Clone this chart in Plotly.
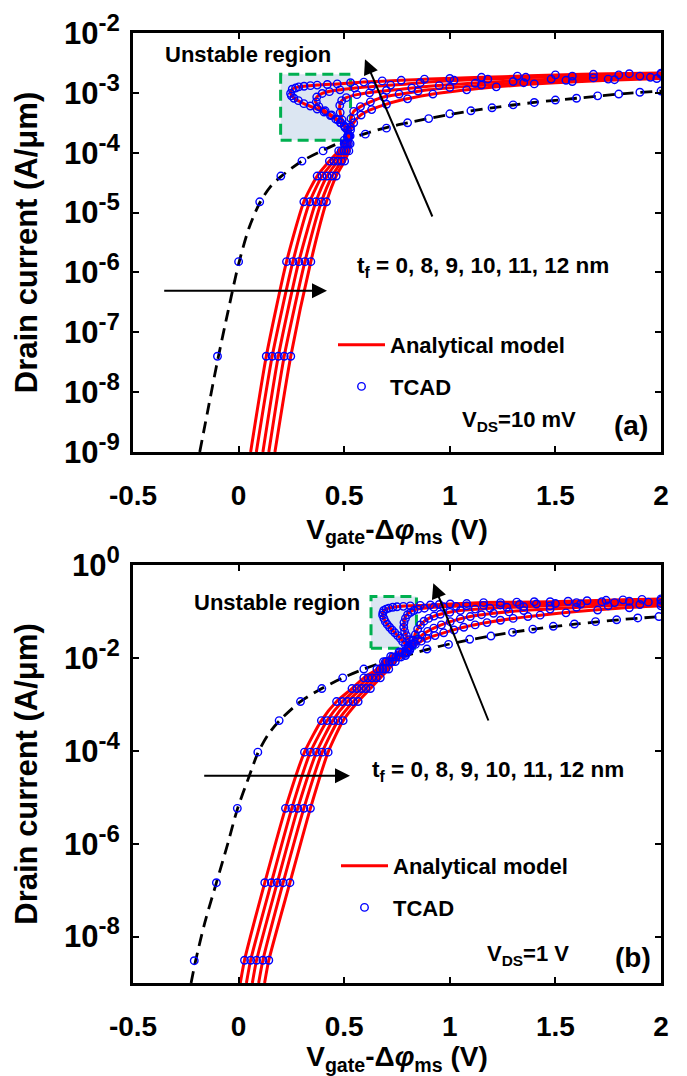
import plotly.graph_objects as go

FONT = "Liberation Sans, Arial, sans-serif"
W, H = 687, 1076

# Every curve is a list of (V_gate - delta_phi_ms [V], log10(I_D [A/um])) pairs.

# ---------------- panel (a): V_DS = 10 mV ----------------
A_TF0_MODEL = [(-0.184, -9.00), (-0.14, -8.20), (-0.10, -7.48), (-0.05, -6.65), (0.00, -5.86),
               (0.05, -5.25), (0.10, -4.84), (0.15, -4.57), (0.20, -4.40), (0.30, -4.14),
               (0.40, -3.96), (0.50, -3.80), (0.60, -3.68), (0.70, -3.58), (0.80, -3.50),
               (1.00, -3.36), (1.20, -3.25), (1.40, -3.16), (1.60, -3.09), (1.80, -3.02), (2.00, -2.97)]
A_TF0_TCAD = [(-0.10, -7.40), (0.00, -5.82), (0.10, -4.82), (0.20, -4.39), (0.30, -4.14), (0.40, -3.97),
              (0.50, -3.79), (0.60, -3.69), (0.70, -3.59), (0.80, -3.50), (0.90, -3.43), (1.00, -3.35),
              (1.10, -3.30), (1.20, -3.25), (1.30, -3.20), (1.40, -3.16), (1.50, -3.12), (1.60, -3.09),
              (1.70, -3.05), (1.80, -3.02), (1.90, -2.99), (2.00, -2.97)]

A_TF8_MODEL = [(0.057, -9.00), (0.131, -7.40), (0.227, -5.82), (0.309, -4.82), (0.372, -4.39), (0.430, -4.14),
               (0.474, -3.97), (0.500, -3.85), (0.515, -3.74), (0.530, -3.62), (0.545, -3.50), (0.575, -3.38),
               (0.620, -3.29), (0.690, -3.20), (0.770, -3.12), (0.900, -3.03), (1.050, -2.96), (1.250, -2.89),
               (1.500, -2.83), (1.750, -2.79), (2.000, -2.76)]
A_TF8_TCAD = [(0.131, -7.40), (0.227, -5.82), (0.309, -4.82), (0.372, -4.39), (0.430, -4.14), (0.474, -3.97),
              (0.500, -3.85), (0.515, -3.74), (0.530, -3.62), (0.545, -3.50), (0.580, -3.37), (0.630, -3.28),
              (0.700, -3.19), (0.800, -3.10), (0.920, -3.02), (1.080, -2.95), (1.220, -2.90), (1.400, -2.85),
              (1.580, -2.81), (1.780, -2.78), (1.980, -2.76)]

A_TF9_MODEL = [(0.084, -9.00), (0.159, -7.40), (0.257, -5.82), (0.337, -4.82), (0.395, -4.39), (0.451, -4.14),
               (0.486, -3.97), (0.505, -3.85), (0.520, -3.72), (0.530, -3.57), (0.532, -3.43), (0.545, -3.31),
               (0.577, -3.23), (0.624, -3.15), (0.687, -3.07), (0.770, -3.02), (0.900, -2.95), (1.050, -2.90),
               (1.250, -2.85), (1.500, -2.80), (1.750, -2.77), (2.000, -2.74)]
A_TF9_TCAD = [(0.159, -7.40), (0.257, -5.82), (0.337, -4.82), (0.395, -4.39), (0.451, -4.14), (0.486, -3.97),
              (0.505, -3.85), (0.520, -3.72), (0.530, -3.57), (0.532, -3.43), (0.545, -3.31), (0.577, -3.23),
              (0.624, -3.15), (0.687, -3.07), (0.760, -3.02), (0.850, -2.97), (1.000, -2.91), (1.150, -2.87),
              (1.350, -2.83), (1.550, -2.79), (1.750, -2.77), (1.950, -2.74)]

A_TF10_MODEL = [(0.115, -9.00), (0.188, -7.40), (0.285, -5.82), (0.366, -4.82), (0.419, -4.39), (0.469, -4.14),
                (0.499, -3.97), (0.512, -3.85), (0.516, -3.72), (0.505, -3.58), (0.490, -3.45), (0.481, -3.33),
                (0.479, -3.21), (0.488, -3.13), (0.510, -3.08), (0.560, -3.03), (0.650, -2.98), (0.770, -2.94),
                (0.900, -2.89), (1.050, -2.85), (1.250, -2.81), (1.500, -2.77), (1.750, -2.74), (2.000, -2.72)]
A_TF10_TCAD = [(0.188, -7.40), (0.285, -5.82), (0.366, -4.82), (0.419, -4.39), (0.469, -4.14), (0.499, -3.97),
               (0.512, -3.85), (0.516, -3.72), (0.505, -3.58), (0.490, -3.45), (0.481, -3.33), (0.479, -3.21),
               (0.488, -3.13), (0.510, -3.08), (0.560, -3.03), (0.620, -3.00), (0.700, -2.96), (0.820, -2.92),
               (0.950, -2.88), (1.120, -2.84), (1.300, -2.81), (1.480, -2.77), (1.680, -2.75), (1.900, -2.72)]

A_TF11_MODEL = [(0.143, -9.00), (0.216, -7.40), (0.314, -5.82), (0.392, -4.82), (0.443, -4.39), (0.487, -4.14),
                (0.511, -3.97), (0.520, -3.85), (0.522, -3.72), (0.505, -3.58), (0.470, -3.45), (0.420, -3.33),
                (0.380, -3.23), (0.364, -3.15), (0.370, -3.07), (0.396, -3.01), (0.450, -2.96), (0.550, -2.92),
                (0.650, -2.89), (0.770, -2.86), (0.900, -2.82), (1.050, -2.79), (1.250, -2.76), (1.500, -2.73),
                (1.750, -2.71), (2.000, -2.69)]
A_TF11_TCAD = [(0.216, -7.40), (0.314, -5.82), (0.392, -4.82), (0.443, -4.39), (0.487, -4.14), (0.511, -3.97),
               (0.520, -3.85), (0.522, -3.72), (0.505, -3.58), (0.485, -3.50), (0.470, -3.45), (0.440, -3.37),
               (0.410, -3.30), (0.380, -3.23), (0.368, -3.15), (0.370, -3.07), (0.396, -3.01), (0.430, -2.98),
               (0.480, -2.95), (0.550, -2.92), (0.630, -2.89), (0.720, -2.87), (0.860, -2.83), (1.020, -2.79),
               (1.180, -2.77), (1.360, -2.74), (1.580, -2.72), (1.800, -2.70), (2.000, -2.69)]

A_TF12_MODEL = [(0.172, -9.00), (0.247, -7.40), (0.342, -5.82), (0.416, -4.82), (0.462, -4.39), (0.502, -4.14),
                (0.522, -3.97), (0.528, -3.85), (0.528, -3.72), (0.510, -3.58), (0.482, -3.50), (0.435, -3.38),
                (0.372, -3.27), (0.309, -3.18), (0.262, -3.09), (0.246, -3.01), (0.254, -2.94), (0.285, -2.90),
                (0.372, -2.87), (0.467, -2.85), (0.593, -2.82), (0.770, -2.79), (0.900, -2.77), (1.050, -2.75),
                (1.250, -2.73), (1.500, -2.70), (1.750, -2.68), (2.000, -2.67)]
A_TF12_TCAD = [(0.247, -7.40), (0.342, -5.82), (0.416, -4.82), (0.462, -4.39), (0.502, -4.14), (0.522, -3.97),
               (0.528, -3.85), (0.528, -3.72), (0.515, -3.62), (0.500, -3.55), (0.482, -3.50), (0.460, -3.44),
               (0.435, -3.38), (0.405, -3.32), (0.372, -3.27), (0.340, -3.22), (0.309, -3.18), (0.283, -3.13),
               (0.262, -3.09), (0.250, -3.05), (0.246, -3.01), (0.254, -2.94), (0.270, -2.92), (0.285, -2.90),
               (0.310, -2.89), (0.340, -2.88), (0.372, -2.87), (0.420, -2.86), (0.467, -2.85), (0.530, -2.83),
               (0.593, -2.82), (0.680, -2.80), (0.770, -2.79), (0.880, -2.77), (1.000, -2.76), (1.150, -2.74),
               (1.320, -2.72), (1.500, -2.70), (1.680, -2.69), (1.850, -2.68), (2.000, -2.67)]

# unstable (negative-capacitance) window: V limits, log10(I) limits
A_BOX_V = [0.199, 0.530]
A_BOX_LOGI = [-3.79, -2.69]

# ---------------- panel (b): V_DS = 1 V ----------------
B_TF0_MODEL = [(-0.225, -9.00), (-0.205, -8.55), (-0.16, -7.70), (-0.105, -6.84), (-0.05, -5.98), (-0.006, -5.26),
               (0.05, -4.55), (0.091, -4.05), (0.14, -3.65), (0.192, -3.36), (0.293, -2.94), (0.394, -2.66),
               (0.493, -2.43), (0.593, -2.24), (0.695, -2.08), (0.80, -1.94), (0.90, -1.81), (1.00, -1.70),
               (1.20, -1.52), (1.40, -1.38), (1.60, -1.27), (1.80, -1.18), (2.00, -1.11)]
B_TF0_TCAD = [(-0.21, -8.52), (-0.105, -6.84), (-0.006, -5.24), (0.091, -4.03), (0.192, -3.35), (0.293, -2.94),
              (0.394, -2.66), (0.493, -2.43), (0.593, -2.24), (0.695, -2.08), (0.79, -1.95), (0.892, -1.81),
              (0.994, -1.71), (1.094, -1.60), (1.195, -1.53), (1.297, -1.45), (1.393, -1.38), (1.49, -1.32),
              (1.59, -1.27), (1.69, -1.22), (1.79, -1.18), (1.89, -1.14), (1.99, -1.11)]

B_TF8_MODEL = [(0.008, -9.00), (0.028, -8.51), (0.124, -6.84), (0.222, -5.24), (0.312, -4.03), (0.392, -3.35),
               (0.464, -2.94), (0.537, -2.66), (0.593, -2.43), (0.655, -2.24), (0.686, -2.08), (0.720, -1.97),
               (0.760, -1.87), (0.800, -1.79), (0.837, -1.71), (0.892, -1.58), (0.971, -1.46), (1.066, -1.34),
               (1.176, -1.24), (1.300, -1.15), (1.428, -1.08), (1.600, -1.00), (1.800, -0.93), (2.000, -0.88)]
B_TF8_TCAD = [(0.028, -8.51), (0.124, -6.84), (0.222, -5.24), (0.312, -4.03), (0.392, -3.35), (0.464, -2.94),
              (0.537, -2.66), (0.593, -2.43), (0.655, -2.24), (0.686, -2.08), (0.720, -1.97), (0.760, -1.87),
              (0.800, -1.79), (0.837, -1.71), (0.865, -1.64), (0.892, -1.58), (0.930, -1.52), (0.971, -1.46),
              (1.020, -1.40), (1.066, -1.34), (1.120, -1.29), (1.176, -1.24), (1.240, -1.19), (1.300, -1.15),
              (1.370, -1.11), (1.428, -1.08), (1.550, -1.03), (1.700, -0.97), (1.850, -0.92), (2.000, -0.88)]

B_TF9_MODEL = [(0.037, -9.00), (0.057, -8.51), (0.155, -6.84), (0.252, -5.24), (0.340, -4.03), (0.419, -3.35),
               (0.491, -2.94), (0.560, -2.66), (0.613, -2.43), (0.669, -2.24), (0.700, -2.08), (0.730, -1.98),
               (0.765, -1.88), (0.800, -1.78), (0.829, -1.69), (0.868, -1.51), (0.924, -1.36), (1.002, -1.22),
               (1.097, -1.11), (1.207, -1.04), (1.350, -0.98), (1.475, -0.95), (1.650, -0.90), (1.820, -0.86),
               (2.000, -0.83)]
B_TF9_TCAD = [(0.057, -8.51), (0.155, -6.84), (0.252, -5.24), (0.340, -4.03), (0.419, -3.35), (0.491, -2.94),
              (0.560, -2.66), (0.613, -2.43), (0.669, -2.24), (0.700, -2.08), (0.730, -1.98), (0.765, -1.88),
              (0.800, -1.78), (0.829, -1.69), (0.848, -1.60), (0.868, -1.51), (0.895, -1.43), (0.924, -1.36),
              (0.960, -1.29), (1.002, -1.22), (1.050, -1.16), (1.097, -1.11), (1.150, -1.07), (1.207, -1.04),
              (1.280, -1.01), (1.350, -0.98), (1.475, -0.95), (1.600, -0.91), (1.750, -0.88), (1.900, -0.85),
              (2.000, -0.83)]

B_TF10_MODEL = [(0.065, -9.00), (0.085, -8.51), (0.183, -6.84), (0.280, -5.24), (0.369, -4.03), (0.446, -3.35),
                (0.516, -2.94), (0.582, -2.66), (0.632, -2.43), (0.683, -2.24), (0.714, -2.08), (0.745, -1.98),
                (0.775, -1.88), (0.805, -1.80), (0.821, -1.72), (0.830, -1.60), (0.837, -1.47), (0.861, -1.29),
                (0.900, -1.15), (0.955, -1.06), (1.050, -0.98), (1.190, -0.93), (1.350, -0.90), (1.475, -0.88),
                (1.650, -0.84), (1.820, -0.81), (2.000, -0.79)]
B_TF10_TCAD = [(0.085, -8.51), (0.183, -6.84), (0.280, -5.24), (0.369, -4.03), (0.446, -3.35), (0.516, -2.94),
               (0.582, -2.66), (0.632, -2.43), (0.683, -2.24), (0.714, -2.08), (0.745, -1.98), (0.775, -1.88),
               (0.805, -1.80), (0.821, -1.72), (0.828, -1.62), (0.837, -1.50), (0.848, -1.38), (0.861, -1.29),
               (0.878, -1.21), (0.900, -1.15), (0.925, -1.10), (0.955, -1.06), (1.000, -1.02), (1.050, -0.98),
               (1.120, -0.95), (1.190, -0.93), (1.270, -0.91), (1.350, -0.90), (1.475, -0.88), (1.620, -0.84),
               (1.780, -0.81), (1.940, -0.80)]

B_TF11_MODEL = [(0.095, -9.00), (0.115, -8.51), (0.211, -6.84), (0.309, -5.24), (0.396, -4.03), (0.471, -3.35),
                (0.543, -2.94), (0.603, -2.66), (0.652, -2.43), (0.697, -2.24), (0.728, -2.08), (0.760, -1.98),
                (0.790, -1.88), (0.813, -1.80), (0.815, -1.70), (0.798, -1.56), (0.784, -1.40), (0.782, -1.29),
                (0.790, -1.11), (0.810, -1.01), (0.845, -0.95), (0.924, -0.91), (1.080, -0.88), (1.239, -0.86),
                (1.475, -0.84), (1.650, -0.80), (1.820, -0.78), (2.000, -0.76)]
B_TF11_TCAD = [(0.115, -8.51), (0.211, -6.84), (0.309, -5.24), (0.396, -4.03), (0.471, -3.35), (0.543, -2.94),
               (0.603, -2.66), (0.652, -2.43), (0.697, -2.24), (0.728, -2.08), (0.760, -1.98), (0.790, -1.88),
               (0.813, -1.80), (0.815, -1.70), (0.806, -1.61), (0.795, -1.52), (0.786, -1.43), (0.782, -1.34),
               (0.783, -1.24), (0.790, -1.15), (0.800, -1.07), (0.815, -1.02), (0.830, -0.98), (0.850, -0.95),
               (0.880, -0.93), (0.924, -0.91), (0.970, -0.90), (1.030, -0.89), (1.080, -0.88), (1.160, -0.87),
               (1.239, -0.86), (1.330, -0.85), (1.410, -0.84), (1.500, -0.83), (1.600, -0.81), (1.720, -0.79),
               (1.850, -0.78), (2.000, -0.76)]

B_TF12_MODEL = [(0.123, -9.00), (0.143, -8.51), (0.243, -6.84), (0.340, -5.24), (0.424, -4.03), (0.495, -3.35),
                (0.566, -2.94), (0.624, -2.66), (0.671, -2.43), (0.711, -2.24), (0.742, -2.08), (0.770, -1.98),
                (0.795, -1.90), (0.810, -1.84), (0.805, -1.79), (0.766, -1.58), (0.727, -1.40), (0.695, -1.22),
                (0.682, -1.08), (0.687, -0.98), (0.711, -0.93), (0.750, -0.90), (0.813, -0.88), (0.908, -0.86),
                (1.002, -0.84), (1.160, -0.81), (1.317, -0.80), (1.475, -0.79), (1.650, -0.77), (1.820, -0.75),
                (2.000, -0.73)]
B_TF12_TCAD = [(0.143, -8.51), (0.243, -6.84), (0.340, -5.24), (0.424, -4.03), (0.495, -3.35), (0.566, -2.94),
               (0.624, -2.66), (0.671, -2.43), (0.711, -2.24), (0.742, -2.08), (0.770, -1.98), (0.795, -1.90),
               (0.810, -1.84), (0.805, -1.79), (0.790, -1.72), (0.777, -1.65), (0.766, -1.58), (0.753, -1.52),
               (0.740, -1.46), (0.727, -1.40), (0.715, -1.34), (0.704, -1.28), (0.695, -1.22), (0.688, -1.15),
               (0.682, -1.08), (0.683, -1.03), (0.687, -0.98), (0.698, -0.95), (0.711, -0.93), (0.730, -0.91),
               (0.750, -0.90), (0.780, -0.89), (0.813, -0.88), (0.860, -0.87), (0.908, -0.86), (0.950, -0.85),
               (1.002, -0.84), (1.080, -0.83), (1.160, -0.81), (1.240, -0.81), (1.317, -0.80), (1.400, -0.79),
               (1.475, -0.79), (1.560, -0.78), (1.650, -0.77), (1.740, -0.76), (1.820, -0.75), (1.910, -0.74),
               (2.000, -0.73)]

B_BOX_V = [0.627, 0.842]
B_BOX_LOGI = [-1.79, -0.68]

X_TICKS = [-0.5, 0, 0.5, 1, 1.5, 2]
X_TICKTEXT = ["-0.5", "0", "0.5", "1", "1.5", "2"]
A_Y_EXPONENTS = [-9, -8, -7, -6, -5, -4, -3, -2]
B_Y_EXPONENTS = [-8, -6, -4, -2, 0]

RED = "rgb(255,0,0)"
BLUE = "rgb(0,0,255)"
GREEN = "rgb(0,176,80)"
BOX_FILL = "rgb(220,230,242)"


def split(pairs):
    return [p[0] for p in pairs], [10 ** p[1] for p in pairs]


def px_x(x):
    return x / W


def px_y(y):
    return 1 - y / H


fig = go.Figure()


def add_panel(xa, ya, legend_id, box_v, box_logi, mos_model, mos_tcad, nc_models, nc_tcads):
    # shaded unstable window
    fig.add_trace(go.Scatter(
        x=[box_v[0], box_v[1], box_v[1], box_v[0], box_v[0]],
        y=[10 ** box_logi[0], 10 ** box_logi[0], 10 ** box_logi[1], 10 ** box_logi[1], 10 ** box_logi[0]],
        mode="lines", fill="toself", fillcolor=BOX_FILL,
        line=dict(color=GREEN, width=3, dash="11px,6px"),
        xaxis=xa, yaxis=ya, showlegend=False, hoverinfo="skip"))
    # conventional MOSFET (t_f = 0)
    x, y = split(mos_model)
    fig.add_trace(go.Scatter(x=x, y=y, mode="lines", line=dict(color="black", width=2.8, dash="12px,7px",
                             shape="spline", smoothing=0.8),
                             xaxis=xa, yaxis=ya, showlegend=False, hoverinfo="skip"))
    # NC-FET analytical model curves
    for i, curve in enumerate(nc_models):
        x, y = split(curve)
        fig.add_trace(go.Scatter(x=x, y=y, mode="lines",
                                 line=dict(color=RED, width=3, shape="spline", smoothing=0.6),
                                 name="Analytical model", legend=legend_id,
                                 legendgroup=legend_id + "m", showlegend=(i == 0),
                                 xaxis=xa, yaxis=ya, hoverinfo="skip"))
    # TCAD symbols
    for i, pts in enumerate([mos_tcad] + nc_tcads):
        x, y = split(pts)
        fig.add_trace(go.Scatter(x=x, y=y, mode="markers",
                                 marker=dict(symbol="circle-open", size=7.5, color=BLUE,
                                             line=dict(width=1.4, color=BLUE)),
                                 name="TCAD", legend=legend_id, legendgroup=legend_id + "t",
                                 showlegend=(i == 0), xaxis=xa, yaxis=ya, hoverinfo="skip"))


add_panel("x", "y", "legend", A_BOX_V, A_BOX_LOGI, A_TF0_MODEL, A_TF0_TCAD,
          [A_TF8_MODEL, A_TF9_MODEL, A_TF10_MODEL, A_TF11_MODEL, A_TF12_MODEL],
          [A_TF8_TCAD, A_TF9_TCAD, A_TF10_TCAD, A_TF11_TCAD, A_TF12_TCAD])
add_panel("x2", "y2", "legend2", B_BOX_V, B_BOX_LOGI, B_TF0_MODEL, B_TF0_TCAD,
          [B_TF8_MODEL, B_TF9_MODEL, B_TF10_MODEL, B_TF11_MODEL, B_TF12_MODEL],
          [B_TF8_TCAD, B_TF9_TCAD, B_TF10_TCAD, B_TF11_TCAD, B_TF12_TCAD])

bold = dict(family=FONT, color="black", weight="bold")
x_dom = [px_x(133), px_x(661)]
x_title = "V<sub>gate</sub>-Δ<i>φ</i><sub>ms</sub> (V)"


def x_axis(anchor):
    return dict(domain=x_dom, anchor=anchor, range=[-0.5, 2], tickvals=X_TICKS, ticktext=X_TICKTEXT,
                showline=True, linecolor="black", linewidth=2.8, mirror="ticks",
                ticks="inside", ticklen=6, tickwidth=2, tickcolor="black",
                tickfont=dict(size=28, **bold), ticklabelstandoff=16, automargin=False,
                title=dict(text=x_title, font=dict(size=28, **bold), standoff=10),
                showgrid=False, zeroline=False)


def y_axis(anchor, dom, rng, exps):
    return dict(domain=dom, anchor=anchor, type="log", range=rng,
                tickvals=[10 ** e for e in exps],
                ticktext=["10<sup><span style='font-size:24px'>%d</span></sup>" % e for e in exps],
                showline=True, linecolor="black", linewidth=2.8, mirror="ticks",
                ticks="inside", ticklen=6, tickwidth=2, tickcolor="black",
                tickfont=dict(size=31, **bold), ticklabelstandoff=4, automargin=False,
                title=dict(text="Drain current (A/μm)", font=dict(size=31, **bold), standoff=18),
                showgrid=False, zeroline=False)


legend_style = dict(font=dict(size=22, **bold), bgcolor="rgba(0,0,0,0)", itemwidth=47,
                    traceorder="grouped", tracegroupgap=10, xanchor="left", yanchor="top")

fig.update_layout(
    width=W, height=H, margin=dict(l=0, r=0, t=0, b=0, pad=0, autoexpand=False),
    paper_bgcolor="white", plot_bgcolor="white", hovermode=False,
    xaxis=x_axis("y"),
    yaxis=y_axis("x", [px_y(452), px_y(33)], [-9, -2], A_Y_EXPONENTS),
    xaxis2=x_axis("y2"),
    yaxis2=y_axis("x2", [px_y(983), px_y(565)], [-9, 0], B_Y_EXPONENTS),
    legend=dict(x=px_x(333), y=px_y(324), **legend_style),
    legend2=dict(x=px_x(336), y=px_y(845), **legend_style),
)

# text labels
labels = [
    ("Unstable region", 163, 55, 22),
    ("t<sub>f</sub> = 0, 8, 9, 10, 11, 12 nm", 355, 267, 22.5),
    ("V<sub>DS</sub>=10 mV", 460, 421, 22),
    ("(a)", 612, 425, 28),
    ("Unstable region", 192, 603, 22),
    ("t<sub>f</sub> = 0, 8, 9, 10, 11, 12 nm", 370, 771, 22.5),
    ("V<sub>DS</sub>=1 V", 485, 955, 22),
    ("(b)", 613, 957, 28),
]
for text, x, y, size in labels:
    fig.add_annotation(text=text, x=px_x(x), y=px_y(y), xref="paper", yref="paper",
                       xanchor="left", yanchor="middle", showarrow=False,
                       font=dict(size=size, **bold))

# arrows: (tip x, tip y, tail x, tail y) in pixels
arrows = [
    (327, 290.7, 162.7, 290.7),
    (365, 59.3, 433, 218),
    (350, 775.7, 202.7, 775.7),
    (433.3, 583.3, 489, 722),
]
for tx, ty, sx, sy in arrows:
    fig.add_annotation(x=px_x(tx), y=px_y(ty), xref="paper", yref="paper", text="",
                       showarrow=True, ax=sx - tx, ay=sy - ty, axref="pixel", ayref="pixel",
                       arrowhead=2, arrowsize=1.5, arrowwidth=2, arrowcolor="black")

fig.write_html("out.html")
